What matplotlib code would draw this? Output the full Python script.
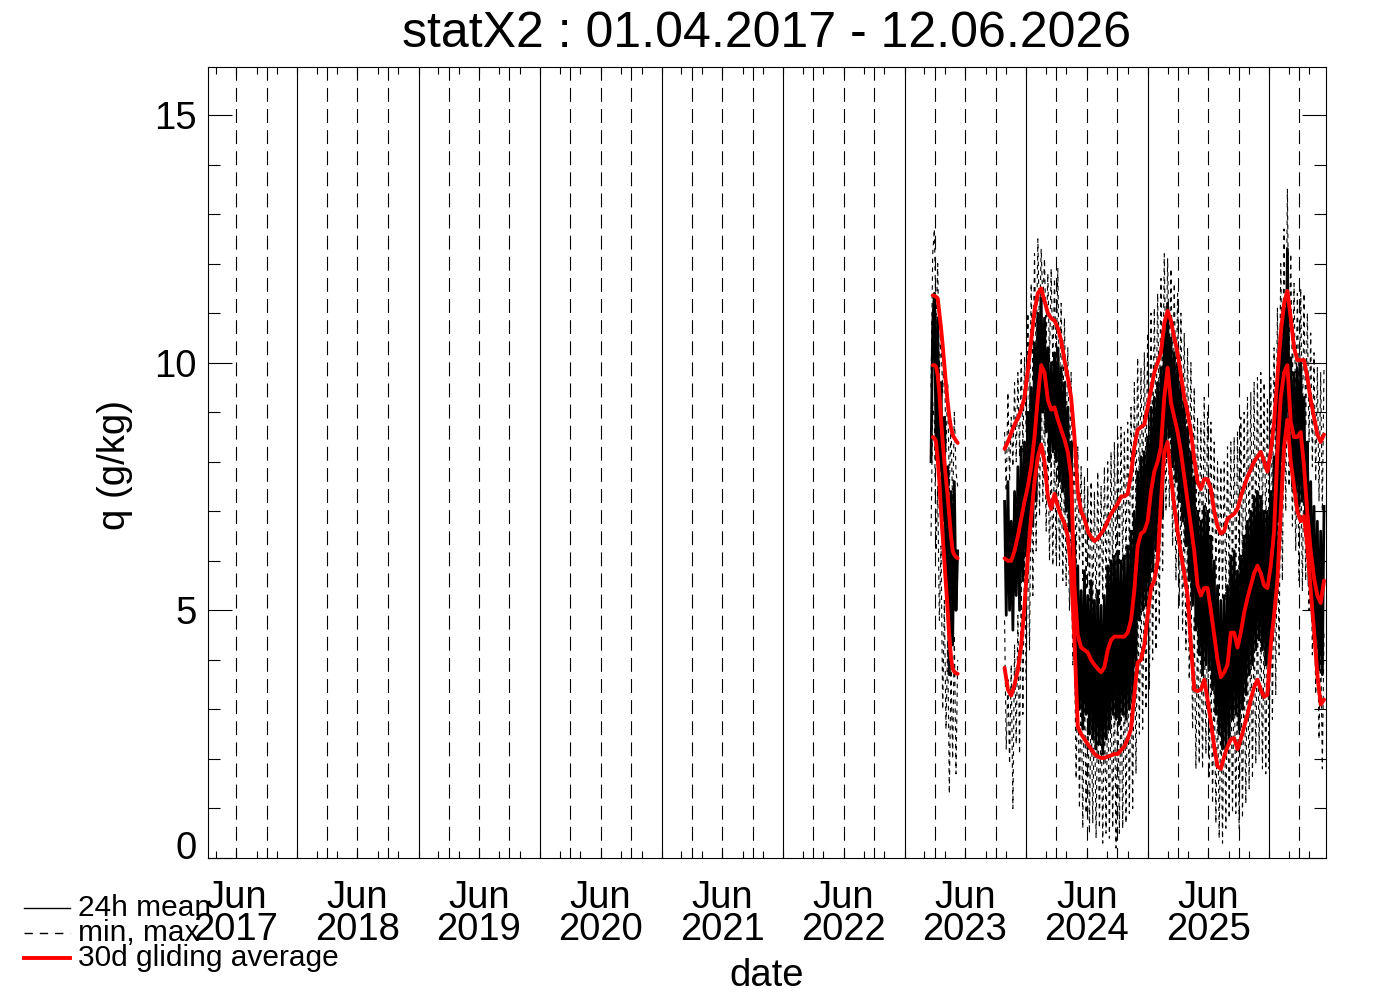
import numpy as np
import matplotlib
matplotlib.use('Agg')
import matplotlib.pyplot as plt
import matplotlib.dates as mdates
from matplotlib.lines import Line2D
from matplotlib.transforms import ScaledTranslation

plt.rcParams['font.family'] = ['Liberation Sans', 'DejaVu Sans']

# spring 2023 period, one value every 5 days
seg1_start = '2023-03-21'
seg1_mean = [8.0, 10.8, 11.4, 8.3, 10.9, 7.8, 9.6, 6.8, 8.9, 5.5, 7.9, 3.7, 7.4, 4.3, 7.6, 5.0, 6.2]
seg1_max = [9.5, 12.2, 12.7, 10.8, 12.0, 9.8, 10.5, 9.4, 10.2, 8.2, 9.6, 7.4, 8.8, 7.0, 9.0, 7.8, 7.5]
seg1_min = [6.5, 9.2, 8.8, 6.2, 7.5, 4.8, 6.3, 3.0, 5.2, 2.6, 4.4, 1.3, 3.8, 2.0, 4.5, 1.7, 4.0]

# 30d gliding averages of that period, every 5 days
seg1_avg_start = '2023-03-26'
seg1_avg_max = [11.36, 11.35, 11.33, 11.3, 11.0, 10.7, 10.35, 9.95, 9.55, 9.2, 8.9, 8.68, 8.55, 8.48, 8.43, 8.38]
seg1_avg_mean = [9.95, 9.95, 9.92, 9.75, 9.4, 8.85, 8.4, 8.0, 7.65, 7.3, 6.9, 6.5, 6.2, 6.12, 6.08, 6.05]
seg1_avg_min = [8.5, 8.48, 8.4, 8.05, 7.6, 7.0, 6.5, 6.0, 5.5, 5.0, 4.45, 4.05, 3.82, 3.76, 3.73, 3.72]

# main period from autumn 2023, one value every 5 days
seg2_start = '2023-10-28'
seg2_mean = [
    7.2, 4.9, 7.6, 5.0, 6.8, 4.6, 7.4, 5.3, 7.9, 5.0,
    8.3, 5.6, 8.4, 6.1, 9.0, 6.3, 9.5, 6.7, 10.4, 7.2,
    11.0, 8.3, 11.3, 9.0, 10.9, 8.6, 10.3, 8.0, 10.0, 8.2,
    10.2, 8.0, 10.3, 7.6, 9.9, 7.4, 9.6, 7.0, 9.1, 6.6,
    8.4, 5.6, 6.5, 3.4, 5.9, 3.0, 5.4, 2.6, 5.8, 2.9,
    5.3, 2.5, 5.6, 2.4, 5.2, 2.2, 5.4, 2.3, 5.1, 2.1,
    5.3, 2.4, 5.9, 2.6, 6.0, 2.9, 6.1, 2.8, 6.2, 2.7,
    6.0, 2.9, 6.1, 2.8, 6.3, 3.0, 6.6, 3.2, 7.0, 3.9,
    7.8, 4.8, 8.1, 5.0, 8.2, 5.1, 8.5, 5.2, 9.1, 5.8,
    9.3, 6.2, 9.6, 6.5, 9.9, 6.9, 10.7, 8.1, 11.2, 8.5,
    10.5, 7.9, 10.2, 7.6, 10.0, 7.2, 9.6, 6.8, 9.2, 6.3,
    8.7, 5.6, 8.2, 5.1, 7.7, 4.6, 7.0, 4.1, 6.8, 3.7,
    7.1, 3.9, 7.0, 3.8, 6.5, 3.4, 6.0, 2.9, 5.5, 2.5,
    5.2, 2.2, 5.3, 2.2, 5.5, 2.4, 6.1, 2.8, 6.2, 2.9,
    5.8, 2.6, 6.1, 3.0, 6.5, 3.3, 6.8, 3.7, 7.0, 3.9,
    7.3, 4.2, 7.4, 4.4, 7.3, 4.2, 7.0, 3.9, 7.0, 3.9,
    7.4, 4.4, 8.1, 5.1, 9.6, 6.8, 10.6, 8.0, 11.1, 8.5,
    12.3, 8.7, 10.1, 7.5, 9.8, 7.2, 9.9, 7.1, 10.0, 7.2,
    9.3, 6.5, 8.4, 5.5, 7.6, 4.8, 7.1, 4.2, 6.8, 3.8,
    6.6, 3.7, 7.1]
seg2_max = [
    8.6, 7.4, 9.4, 7.6, 8.9, 7.9, 9.6, 8.0, 9.8, 8.1,
    10.2, 8.2, 10.1, 8.6, 11.0, 8.8, 11.6, 9.6, 12.2, 10.0,
    12.5, 10.6, 12.3, 11.2, 12.1, 10.4, 11.8, 10.0, 11.9, 9.9,
    11.7, 9.8, 11.9, 9.3, 11.2, 9.0, 10.9, 8.4, 10.3, 7.9,
    9.8, 7.0, 8.2, 5.8, 8.3, 6.0, 7.9, 5.6, 7.7, 5.4,
    7.5, 5.2, 7.6, 5.0, 7.4, 4.9, 7.8, 5.1, 7.5, 5.2,
    7.9, 5.4, 8.0, 5.3, 8.2, 5.7, 8.4, 5.6, 8.5, 5.9,
    8.7, 5.8, 8.6, 6.0, 8.8, 6.0, 9.1, 6.3, 9.6, 7.0,
    10.1, 7.3, 9.9, 7.4, 10.2, 7.5, 10.6, 7.8, 11.0, 8.3,
    11.1, 8.5, 11.4, 8.8, 11.7, 9.0, 12.2, 9.6, 12.1, 10.0,
    11.9, 9.6, 11.6, 9.2, 11.4, 8.8, 11.0, 8.3, 10.6, 7.8,
    10.3, 7.5, 10.0, 7.1, 9.5, 6.6, 8.9, 6.2, 8.8, 6.0,
    9.3, 6.1, 9.0, 6.2, 8.8, 6.0, 8.4, 5.6, 8.0, 5.3,
    7.9, 5.2, 8.0, 5.2, 8.3, 5.4, 8.4, 5.5, 8.5, 5.4,
    8.6, 5.6, 8.9, 5.8, 9.0, 6.0, 9.3, 6.2, 9.4, 6.4,
    9.6, 6.5, 9.7, 6.6, 9.8, 6.7, 9.6, 6.4, 9.3, 6.3,
    9.7, 6.7, 10.3, 7.3, 11.1, 8.4, 12.0, 9.2, 12.7, 9.8,
    13.5, 10.0, 12.2, 9.6, 11.6, 9.0, 11.4, 8.7, 11.5, 8.6,
    11.4, 8.7, 11.0, 8.4, 10.6, 7.9, 10.2, 7.6, 9.9, 7.2,
    9.8, 7.0, 9.9]
seg2_min = [
    4.8, 2.2, 3.6, 1.9, 3.9, 1.0, 4.3, 2.3, 4.9, 2.1,
    5.6, 2.9, 6.2, 3.6, 7.3, 4.2, 8.1, 5.3, 8.6, 6.2,
    9.4, 6.9, 9.7, 7.2, 9.2, 6.6, 8.5, 6.0, 8.2, 5.9,
    8.4, 6.1, 8.6, 5.9, 7.9, 5.6, 7.8, 5.5, 7.5, 5.0,
    6.6, 3.9, 4.4, 1.6, 3.8, 1.0, 3.6, 0.6, 3.7, 0.9,
    3.4, 0.5, 3.3, 0.7, 3.2, 0.4, 3.3, 0.6, 3.0, 0.3,
    3.2, 0.5, 3.4, 0.4, 3.5, 0.6, 3.6, 0.2, 3.5, 0.5,
    3.7, 0.6, 3.8, 0.7, 3.9, 0.9, 4.1, 1.0, 4.6, 1.7,
    5.4, 2.5, 5.6, 2.6, 5.8, 3.0, 6.5, 3.4, 7.0, 4.0,
    7.1, 4.2, 7.6, 4.7, 8.7, 5.8, 9.3, 7.0, 9.6, 7.1,
    8.9, 6.3, 8.5, 5.6, 8.0, 5.1, 7.6, 4.6, 7.2, 4.2,
    6.8, 3.6, 5.9, 2.6, 4.9, 1.8, 4.8, 1.9, 4.9, 1.8,
    5.1, 2.1, 4.8, 1.6, 4.3, 1.1, 3.7, 0.7, 3.3, 0.4,
    3.2, 0.3, 3.5, 0.6, 3.7, 0.8, 3.9, 0.9, 3.9, 0.9,
    3.7, 0.6, 3.9, 0.8, 4.2, 1.1, 4.4, 1.4, 4.7, 1.6,
    5.0, 1.9, 5.1, 2.1, 4.9, 1.8, 4.7, 1.7, 4.8, 1.8,
    5.8, 2.8, 6.3, 3.3, 7.1, 4.1, 8.4, 5.6, 9.8, 7.0,
    10.2, 7.5, 9.3, 6.7, 8.8, 6.2, 8.4, 5.6, 8.2, 5.4,
    8.2, 5.6, 7.6, 5.0, 6.7, 4.1, 5.9, 3.3, 5.0, 2.4,
    4.4, 1.8, 4.6]

# 30d gliding averages of the main period, every 10 days
seg2_avg_max = [
    8.26, 8.4, 8.58, 8.75, 8.88, 9.05, 9.3, 9.85, 10.45, 11.05,
    11.4, 11.5, 11.25, 11.0, 10.9, 10.85, 10.7, 10.45, 10.05, 9.7,
    9.3, 8.5, 7.4, 7.0, 6.85, 6.6, 6.48, 6.4, 6.45, 6.55,
    6.65, 6.8, 6.95, 7.05, 7.15, 7.3, 7.3, 7.35, 7.75, 8.3,
    8.65, 8.7, 8.75, 9.1, 9.45, 9.8, 10.0, 10.2, 10.8, 11.05,
    10.85, 10.5, 10.2, 9.75, 9.3, 9.0, 8.6, 8.05, 7.6, 7.45,
    7.65, 7.65, 7.45, 7.0, 6.7, 6.55, 6.6, 6.85, 6.9, 6.95,
    7.05, 7.3, 7.5, 7.7, 7.85, 8.0, 8.1, 8.2, 8.0, 7.8,
    8.2, 8.8, 9.7, 10.6, 11.2, 11.45, 10.9, 10.3, 10.05, 10.05,
    10.05, 9.7, 9.25, 8.9, 8.55, 8.4, 8.55]
seg2_avg_mean = [
    6.05, 6.0, 6.0, 6.2, 6.5, 6.85, 7.2, 7.5, 7.9, 8.5,
    9.3, 9.95, 9.8, 9.25, 9.05, 9.1, 8.85, 8.65, 8.45, 8.2,
    7.7, 5.5, 4.5, 4.25, 4.2, 4.15, 4.0, 3.9, 3.82, 3.75,
    3.85, 4.2, 4.4, 4.47, 4.47, 4.47, 4.47, 4.55, 4.8, 5.4,
    6.3, 6.55, 6.6, 6.8, 7.4, 7.8, 8.0, 8.3, 9.3, 9.9,
    9.2, 8.9, 8.6, 8.2, 7.7, 7.2, 6.7, 6.2, 5.5, 5.3,
    5.45, 5.45, 5.0, 4.5, 4.0, 3.65, 3.75, 3.9, 4.55, 4.55,
    4.25, 4.55, 4.95, 5.25, 5.5, 5.75, 5.9, 5.75, 5.5, 5.45,
    5.9, 6.6, 8.2, 9.3, 9.8, 9.95, 8.8, 8.5, 8.5, 8.6,
    7.9, 6.95, 6.2, 5.65, 5.3, 5.15, 5.6]
seg2_avg_min = [
    3.84, 3.4, 3.28, 3.5, 3.8, 4.3, 5.1, 6.1, 6.9, 7.6,
    8.1, 8.35, 8.0, 7.3, 7.05, 7.35, 7.1, 6.9, 6.75, 6.5,
    5.8, 4.4, 2.65, 2.5, 2.4, 2.3, 2.2, 2.1, 2.05, 2.02,
    2.02, 2.05, 2.07, 2.1, 2.1, 2.18, 2.25, 2.4, 2.6, 3.3,
    3.95, 4.0, 4.3, 4.9, 5.45, 5.6, 6.0, 7.2, 8.2, 8.4,
    7.7, 7.1, 6.6, 6.15, 5.75, 5.3, 4.3, 3.4, 3.37, 3.4,
    3.6, 3.2, 2.75, 2.25, 1.85, 1.8, 2.05, 2.25, 2.4, 2.42,
    2.2, 2.4, 2.65, 2.9, 3.2, 3.45, 3.6, 3.4, 3.25, 3.3,
    4.3, 4.9, 5.6, 7.0, 8.3, 8.85, 8.0, 7.5, 7.0, 6.8,
    6.9, 6.3, 5.4, 4.6, 3.7, 3.1, 3.2]

years = list(range(2017, 2026))
x_start, x_end = '2017-04-08', '2026-06-20'


def dates(start, n, step):
    return np.datetime64(start) + np.arange(n) * np.timedelta64(step, 'D')


W, H = 1388, 992
fig = plt.figure(figsize=(W / 100, H / 100), dpi=100)
ax = fig.add_axes([208 / W, 1 - 858 / H, 1118 / W, 791 / H])

# year / quarter lines
for y in range(2017, 2027):
    jan = np.datetime64(f'{y}-01-01')
    if np.datetime64(x_start) < jan < np.datetime64(x_end):
        ax.axvline(jan, color='black', lw=0.8, zorder=1)
    for m in ('04', '07', '10'):
        q = np.datetime64(f'{y}-{m}-01')
        if np.datetime64(x_start) < q < np.datetime64(x_end):
            ax.axvline(q, color='black', lw=0.8, ls=(3, (12.5, 6.5)), zorder=1)

dotted = (0, (4, 4))
for start, mean, mx, mn in [(seg1_start, seg1_mean, seg1_max, seg1_min),
                            (seg2_start, seg2_mean, seg2_max, seg2_min)]:
    t = dates(start, len(mean), 5)
    ax.plot(t, mx, color='black', lw=0.8, ls=dotted, zorder=2)
    ax.plot(t, mn, color='black', lw=0.8, ls=dotted, zorder=2)
    ax.plot(t, mean, color='black', lw=2.0, zorder=3)

for start, step, series in [(seg1_avg_start, 5, (seg1_avg_max, seg1_avg_mean, seg1_avg_min)),
                            (seg2_start, 10, (seg2_avg_max, seg2_avg_mean, seg2_avg_min))]:
    for vals in series:
        t = dates(start, len(vals), step)
        ax.plot(t, vals, color='#ff0000', lw=2.8, zorder=4, solid_capstyle='round')

ax.set_xlim(np.datetime64(x_start), np.datetime64(x_end))
ax.set_ylim(0.02, 15.97)

# axes ticks
ax.set_xticks([np.datetime64(f'{y}-07-01') for y in years])
ax.set_xticklabels([f'Jun\n{y}' for y in years], fontsize=27.5, linespacing=0.85)
ax.xaxis.set_minor_locator(mdates.MonthLocator(bymonth=[1, 3, 5, 7, 9, 11]))
ax.tick_params(axis='x', which='both', direction='in', top=True, length=5,
               width=0.8, pad=16)
ax.set_yticks([0, 5, 10, 15])
ax.set_yticklabels(['0', '5', '10', '15'], fontsize=27.5)
ax.yaxis.set_minor_locator(plt.MultipleLocator(1))
ax.tick_params(axis='y', which='major', direction='in', right=True, length=17,
               width=0.8, pad=8)
ax.tick_params(axis='y', which='minor', direction='in', right=True, length=8.5,
               width=0.8)
for s in ax.spines.values():
    s.set_linewidth(0.8)

zero = ax.yaxis.get_major_ticks()[0].label1
zero.set_transform(zero.get_transform() + ScaledTranslation(0, 0.13, fig.dpi_scale_trans))

ax.set_xlabel('date', fontsize=27.5, va='center')
ax.xaxis.set_label_coords(0.5, (858 - 976) / 791)
ax.set_ylabel('q (g/kg)', fontsize=27.5, va='center')
ax.yaxis.set_label_coords((115 - 208) / 1118, (858 - 465) / 791)
ax.set_title('statX2 : 01.04.2017 - 12.06.2026', fontsize=36, y=(858 - 42) / 791, va='center')

# legend in the lower left corner
legend = [('24h mean', dict(color='black', lw=1.0)),
          ('min, max', dict(color='black', lw=1.0, ls=(0, (6, 5)))),
          ('30d gliding average', dict(color='#ff0000', lw=2.8))]
for i, (label, style) in enumerate(legend):
    yy = 1 - (908 + 25 * i) / H
    fig.add_artist(Line2D([24 / W, 70 / W], [yy, yy], transform=fig.transFigure, **style))
    fig.text(78 / W, yy, label, fontsize=21.5, va='center')

fig.savefig('out.png', dpi=100)
